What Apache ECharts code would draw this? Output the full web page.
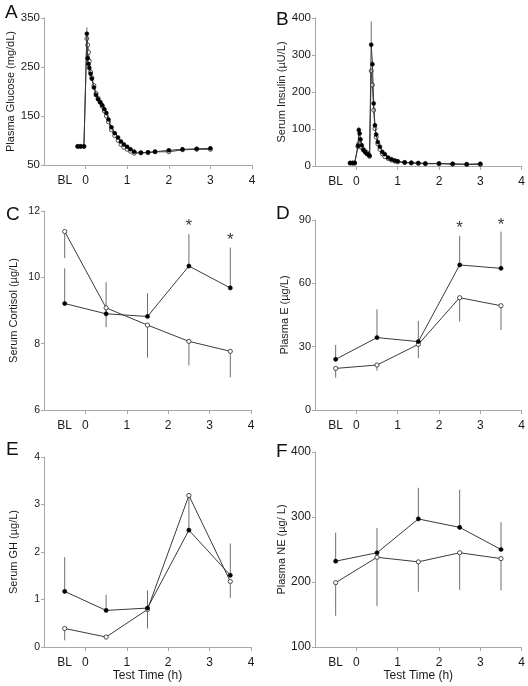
<!DOCTYPE html>
<html>
<head>
<meta charset="utf-8">
<script src="https://cdn.jsdelivr.net/npm/echarts@6/dist/echarts.min.js"></script>
<style>
html,body{margin:0;padding:0;background:#fff;}
#c{width:528px;height:686px;}
</style>
</head>
<body>
<div id="c"></div>
<script>
// ---------- DATA ----------
// Panel A: Plasma glucose (mg/dL)
var aTime = [-0.19, -0.12, -0.04, 0.03, 0.05, 0.07, 0.09, 0.12, 0.15, 0.2, 0.25, 0.3, 0.35, 0.4, 0.45, 0.5, 0.55, 0.62, 0.7, 0.78, 0.85, 0.92, 1.0, 1.08, 1.17, 1.33, 1.5, 1.67, 2.0, 2.33, 2.67, 3.0];
var glucFilled = [88, 88, 88, 318, 268, 256, 248, 236, 226, 208, 193, 184, 178, 172, 164, 156, 143, 127, 115, 106, 98, 92, 87, 82, 77, 75, 76, 77, 80, 82, 83, 84];
var glucOpen = [88, 88, 88, 308, 295, 280, 262, 240, 228, 212, 196, 186, 178, 170, 160, 150, 138, 122, 110, 100, 92, 86, 82, 78, 74, 75, 75, 77, 77, 81, 82, 82];
var glucErr = [0, 0, 0, 13, 6, 5, 4, 4, 4, 4, 4, 4, 4, 4, 4, 4, 4, 4, 4, 4, 4, 4, 4, 4, 6, 3, 3, 3, 3, 3, 3, 3];

// Panel B: Serum insulin (µU/L)
var bTime = [-0.15, -0.09, -0.04, 0.04, 0.06, 0.08, 0.1, 0.13, 0.17, 0.21, 0.25, 0.29, 0.32, 0.36, 0.39, 0.42, 0.45, 0.48, 0.52, 0.57, 0.63, 0.69, 0.77, 0.85, 0.93, 1.0, 1.17, 1.33, 1.5, 1.67, 2.0, 2.33, 2.67, 3.0];
var insFilled = [8, 8, 8, 55, 97, 88, 72, 56, 43, 38, 33, 31, 28, 328, 275, 169, 110, 85, 65, 52, 38, 32, 23, 18, 15, 13, 10, 9, 8, 7, 7, 6, 5, 6];
var insOpen = [8, 8, 8, 52, 60, 62, 58, 50, 45, 40, 36, 32, 26, 257, 219, 151, 101, 78, 60, 45, 33, 25, 20, 16, 13, 11, 9, 8, 7, 6, 6, 5, 4, 4];
var insErr = [0, 0, 0, 3, 9, 5, 4, 3, 3, 3, 3, 3, 3, 63, 10, 8, 6, 4, 3, 3, 3, 2, 2, 2, 2, 2, 2, 2, 2, 2, 2, 2, 2, 2];

// Panels C-F: time points (BL plotted at -0.5)
var cfTime = [-0.5, 0.5, 1.5, 2.5, 3.5];

var cortFilled = [9.21, 8.90, 8.82, 10.34, 9.68];
var cortFilledErr = [1.06, 0.95, 0.70, 0.96, 1.22];
var cortOpen = [11.38, 9.08, 8.56, 8.07, 7.77];
var cortOpenErr = [0.80, 0.58, 0.98, 0.73, 0.78];
var cortStars = [[2.5, 11.62], [3.5, 11.21]];

var epiFilled = [24.0, 34.3, 32.4, 68.7, 67.1];
var epiFilledErr = [6.8, 13.4, 9.8, 13.8, 17.4];
var epiOpen = [19.7, 21.3, 31.1, 53.2, 49.4];
var epiOpenErr = [4.4, 2.7, 6.6, 11.3, 11.5];
var epiStars = [[2.5, 87.3], [3.5, 89.0]];

var ghFilled = [1.17, 0.77, 0.82, 2.46, 1.51];
var ghFilledErr = [0.72, 0.33, 0.37, 0.70, 0.67];
var ghOpen = [0.39, 0.21, 0.79, 3.19, 1.38];
var ghOpenErr = [0.25, 0.05, 0.40, 0, 0.35];

var neFilled = [232, 245, 297, 284, 250];
var neFilledErr = [44, 38, 48, 58, 42];
var neOpen = [199, 238, 231, 245, 236];
var neOpenErr = [51, 75, 46, 57, 49];

var xTicks = [0, 1, 2, 3, 4];
var xLabels = [-0.5, 0, 1, 2, 3, 4];

// ---------- BUILD ----------
var FONT = '"Liberation Sans", Arial, Helvetica, sans-serif';
var AXIS_COLOR = '#a8a8a8';
var TEXT_COLOR = '#1a1a1a';

var panels = [
  {letter:'A', grid:{left:44, top:18, width:208, height:147}, yMin:50, yMax:350, yInt:100, yName:'Plasma Glucose (mg/dL)', yFont:11.5,
   t:aTime, f:glucFilled, fe:glucErr, o:glucOpen, oe:null, stars:null, xName:null, sym:4},
  {letter:'B', grid:{left:315, top:18, width:210, height:148}, yMin:0, yMax:400, yInt:100, yName:'Serum Insulin (µU/L)', yFont:11.5,
   t:bTime, f:insFilled, fe:insErr, o:insOpen, oe:null, stars:null, xName:null, sym:4},
  {letter:'C', grid:{left:44, top:211, width:207, height:199}, yMin:6, yMax:12, yInt:2, yName:'Serum Cortisol (µg/L)', yFont:10.5,
   t:cfTime, f:cortFilled, fe:cortFilledErr, o:cortOpen, oe:cortOpenErr, stars:cortStars, xName:null, sym:4.2},
  {letter:'D', grid:{left:315, top:220, width:210, height:190}, yMin:0, yMax:90, yInt:30, yName:'Plasma E (µg/L)', yFont:11,
   t:cfTime, f:epiFilled, fe:epiFilledErr, o:epiOpen, oe:epiOpenErr, stars:epiStars, xName:null, sym:4.2},
  {letter:'E', grid:{left:44, top:457, width:207, height:190}, yMin:0, yMax:4, yInt:1, yName:'Serum GH (µg/L)', yFont:10.5,
   t:cfTime, f:ghFilled, fe:ghFilledErr, o:ghOpen, oe:ghOpenErr, stars:null, xName:'Test Time (h)', sym:4.2},
  {letter:'F', grid:{left:315, top:452, width:210, height:195}, yMin:100, yMax:400, yInt:100, yName:'Plasma NE (µg/ L)', yFont:12,
   t:cfTime, f:neFilled, fe:neFilledErr, o:neOpen, oe:neOpenErr, stars:null, xName:'Test Time (h)', sym:4.2}
];

var grids = [], xAxes = [], yAxes = [], series = [], titles = [];
var letterPos = [[0,-2],[271,5],[1,200],[271,199],[1,435],[271,437]];

function errRender(params, api) {
  var x = api.value(0), y1 = api.value(1), y2 = api.value(2);
  var p1 = api.coord([x, y1]);
  var p2 = api.coord([x, y2]);
  return {type:'line', shape:{x1:p1[0], y1:p1[1], x2:p2[0], y2:p2[1]},
          style:{stroke:'#6e6e6e', lineWidth:1}};
}

panels.forEach(function(p, i) {
  grids.push(p.grid);
  xAxes.push({
    type:'value', gridIndex:i, min:-1, max:4, interval:1,
    axisLine:{show:true, onZero:false, lineStyle:{color:AXIS_COLOR, width:1}},
    axisTick:{show:true, length:4, lineStyle:{color:AXIS_COLOR}, customValues:xTicks},
    axisLabel:{color:TEXT_COLOR, fontFamily:FONT, fontSize:12, margin:10, customValues:xLabels,
      formatter:function(v){ return v === -0.5 ? 'BL' : String(v); }},
    splitLine:{show:false},
    name:p.xName || '', nameLocation:'middle', nameGap:23,
    nameTextStyle:{color:TEXT_COLOR, fontFamily:FONT, fontSize:12}
  });
  yAxes.push({
    type:'value', gridIndex:i, min:p.yMin, max:p.yMax, interval:p.yInt,
    axisLine:{show:true, onZero:false, lineStyle:{color:AXIS_COLOR, width:1}},
    axisTick:{show:true, length:3, lineStyle:{color:AXIS_COLOR}},
    axisLabel:{color:TEXT_COLOR, fontFamily:FONT, fontSize:p.yFont, margin:4},
    splitLine:{show:false},
    name:p.yName, nameLocation:'middle', nameGap:25, nameRotate:90,
    nameTextStyle:{color:TEXT_COLOR, fontFamily:FONT, fontSize:11}
  });
  titles.push({text:p.letter, left:letterPos[i][0], top:letterPos[i][1],
    textStyle:{fontFamily:FONT, fontSize:19, fontWeight:'normal', color:'#111'}});

  var fErrData = p.t.map(function(x, k){ return [x, p.f[k], p.f[k] + p.fe[k]]; });
  series.push({type:'custom', xAxisIndex:i, yAxisIndex:i, renderItem:errRender, data:fErrData, z:1, silent:true});
  if (p.oe) {
    var oErrData = p.t.map(function(x, k){ return [x, p.o[k], p.o[k] - p.oe[k]]; });
    series.push({type:'custom', xAxisIndex:i, yAxisIndex:i, renderItem:errRender, data:oErrData, z:1, silent:true});
  }
  series.push({
    type:'line', xAxisIndex:i, yAxisIndex:i, z:3,
    data:p.t.map(function(x, k){ return [x, p.o[k]]; }),
    symbol:'circle', symbolSize:p.sym, showAllSymbol:true,
    lineStyle:{color:'#3a3a3a', width:1},
    itemStyle:{color:'#fff', borderColor:'#222', borderWidth:0.8},
    animation:false
  });
  series.push({
    type:'line', xAxisIndex:i, yAxisIndex:i, z:4,
    data:p.t.map(function(x, k){ return [x, p.f[k]]; }),
    symbol:'circle', symbolSize:p.sym, showAllSymbol:true,
    lineStyle:{color:'#3a3a3a', width:1},
    itemStyle:{color:'#000', borderColor:'#000', borderWidth:0.5},
    animation:false
  });
  if (p.stars) {
    series.push({
      type:'scatter', xAxisIndex:i, yAxisIndex:i, z:5, symbolSize:1,
      itemStyle:{color:'rgba(0,0,0,0)'},
      data:p.stars,
      label:{show:true, position:'inside', formatter:'*', fontFamily:FONT, fontSize:17, fontWeight:'normal', color:'#000', offset:[0,3]},
      animation:false
    });
  }
});

var chart = echarts.init(document.getElementById('c'), null, {renderer:'canvas'});
chart.setOption({
  animation:false,
  backgroundColor:'#fff',
  title:titles,
  grid:grids,
  xAxis:xAxes,
  yAxis:yAxes,
  series:series
});
</script>
</body>
</html>
